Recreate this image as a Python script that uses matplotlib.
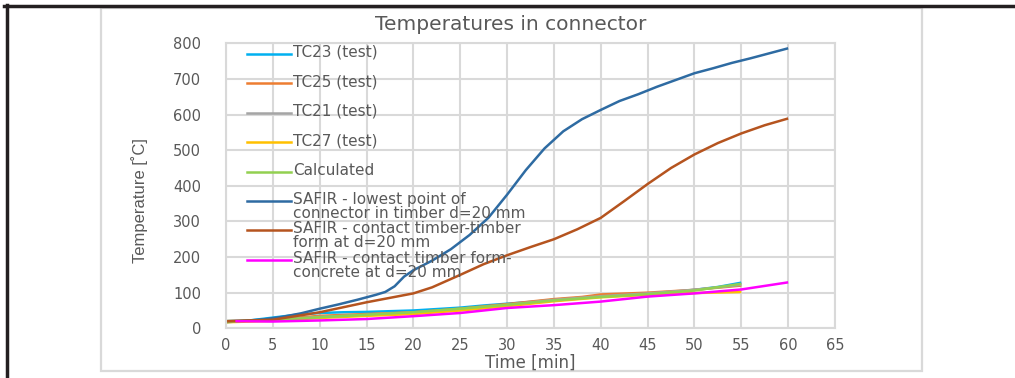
import matplotlib
matplotlib.use("Agg")
import matplotlib.pyplot as plt
from matplotlib.lines import Line2D
from matplotlib.patches import Rectangle

# ---- data: temperatures [°C] versus time [min] ----
t_tc23 = [0, 2.5, 5, 7.5, 10, 12.5, 15, 17.5, 20, 22.5, 25, 27.5, 30, 32.5, 35, 37.5, 40, 42.5, 45, 47.5, 50, 52.5, 55]
T_tc23 = [17, 22, 30, 38, 43, 45, 46, 48, 50, 54, 58, 64, 69, 74, 80, 85, 90, 93, 97, 102, 108, 116, 128]

t_tc25 = [0, 5, 10, 15, 20, 25, 30, 35, 38, 40, 45, 50, 55]
T_tc25 = [18, 24, 35, 40, 45, 55, 68, 82, 88, 95, 100, 108, 120]

t_tc21 = [0, 5, 10, 15, 20, 25, 30, 35, 40, 45, 50, 55]
T_tc21 = [18, 23, 32, 38, 44, 53, 66, 80, 90, 98, 108, 122]

t_tc27 = [0, 5, 10, 15, 20, 25, 30, 35, 40, 45, 50, 55]
T_tc27 = [17, 21, 29, 35, 40, 50, 62, 76, 87, 94, 99, 102]

t_calc = [0, 5, 10, 15, 20, 25, 30, 35, 40, 45, 50, 55]
T_calc = [20, 23, 31, 38, 45, 55, 66, 78, 88, 96, 106, 125]

t_safir_low = [0, 2, 4, 6, 8, 10, 12, 14, 16, 17, 18, 19, 20, 22, 24, 26, 28, 30, 32, 34, 36,
               38, 40, 42, 44, 46, 48, 50, 52, 54, 56, 58, 60]
T_safir_low = [20, 21, 25, 32, 42, 55, 67, 80, 94, 102, 118, 145, 163, 190, 222, 262, 310, 375, 444,
               505, 553, 587, 613, 638, 657, 678, 697, 716, 730, 745, 758, 772, 786]

t_safir_tt = [0, 5, 10, 15, 20, 22, 25, 27.5, 30, 32.5, 35, 37.5, 40, 42.5, 45, 47.5, 50, 52.5, 55, 57.5, 60]
T_safir_tt = [20, 24, 45, 73, 98, 115, 150, 180, 205, 228, 250, 278, 310, 357, 405, 450, 488, 520, 547, 570, 589]

t_safir_tc = [1, 5, 10, 15, 20, 25, 30, 35, 40, 45, 50, 55, 60]
T_safir_tc = [20, 19, 22, 26, 34, 43, 57, 65, 75, 89, 98, 109, 129]

labels = ["TC23 (test)", "TC25 (test)", "TC21 (test)", "TC27 (test)", "Calculated",
          "SAFIR - lowest point of\nconnector in timber d=20 mm",
          "SAFIR - contact timber-timber\nform at d=20 mm",
          "SAFIR - contact timber form-\nconcrete at d=20 mm"]
colors = ["#00B0F0", "#ED7D31", "#A5A5A5", "#FFC000", "#92D050", "#2E6BA2", "#B5541F", "#FF00FF"]

x_ticks = list(range(0, 70, 5))
y_ticks = list(range(0, 900, 100))

series = [(t_tc23, T_tc23), (t_tc25, T_tc25), (t_tc21, T_tc21), (t_tc27, T_tc27),
          (t_calc, T_calc), (t_safir_low, T_safir_low), (t_safir_tt, T_safir_tt),
          (t_safir_tc, T_safir_tc)]

W, H = 1015, 378
plt.rcParams["font.family"] = ["DejaVu Sans"]
fig = plt.figure(figsize=(W / 100, H / 100), dpi=100)
txt = "#595959"
grid = "#D9D9D9"

def fx(px):
    return px / W

def fy(py):
    return 1 - py / H

# outer frame: black top and left rules, grey chart-area box
fig.add_artist(Line2D([fx(4), fx(1015)], [fy(5.5), fy(5.5)], color="#231F20", lw=2.5))
fig.add_artist(Line2D([fx(6.5), fx(6.5)], [fy(5), fy(378)], color="#231F20", lw=2.5))
fig.add_artist(Rectangle((fx(101), fy(371)), fx(922 - 101), (371 - 7.5) / H,
                         fill=False, edgecolor=grid, lw=1.6))

ax = fig.add_axes([fx(226), fy(328.3), fx(835 - 226), (328.3 - 43.3) / H])
for (t, T), c in zip(series, colors):
    ax.plot(t, T, color=c, lw=1.8, solid_capstyle="butt")

ax.set_xlim(0, 65)
ax.set_ylim(0, 800)
ax.set_xticks(x_ticks)
ax.set_yticks(y_ticks)
ax.grid(True, color=grid, lw=1.5)
ax.set_axisbelow(True)
for s in ax.spines.values():
    s.set_color(grid)
    s.set_linewidth(1.5)
ax.tick_params(axis="both", length=0, colors=txt, labelsize=10.5)
ax.tick_params(axis="y", pad=18)
ax.tick_params(axis="x", pad=7)

fig.text(fx(530), fy(363), "Time [min]", ha="center", va="center", color=txt, fontsize=12)
fig.text(fx(140), fy(201), "Temperature [˚C]", rotation=90, ha="center", va="center",
         color=txt, fontsize=12, family=["Liberation Sans Narrow", "Liberation Sans", "DejaVu Sans"])
fig.text(fx(511), fy(24), "Temperatures in connector", ha="center", va="center",
         color=txt, fontsize=14.5)

# legend drawn in the upper-left of the plot area
y0 = 54
step = 29.4
for i, (lab, c) in enumerate(zip(labels, colors)):
    yy = y0 + i * step
    fig.add_artist(Line2D([fx(247), fx(291)], [fy(yy), fy(yy)], color=c, lw=1.8))
    fig.text(fx(293), fy(yy) + 9 / H, lab, ha="left", va="top", color=txt,
             fontsize=11, linespacing=0.92)

fig.savefig("out.png", dpi=100)
